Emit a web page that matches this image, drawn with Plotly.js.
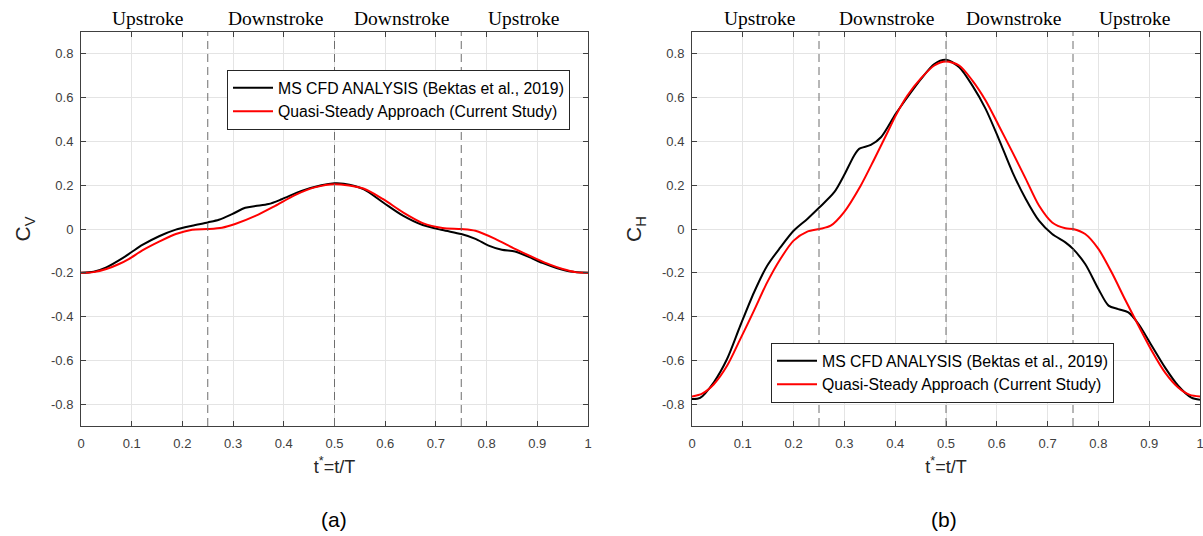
<!DOCTYPE html>
<html>
<head>
<meta charset="utf-8">
<script src="https://cdn.plot.ly/plotly-3.0.1.min.js"></script>
<style>
html,body{margin:0;padding:0;background:#fff;}
#chart{width:1203px;height:536px;}
</style>
</head>
<body>
<div id="chart"></div>
<script>
// ---------- DATA ----------
const seriesNames = ["MS CFD ANALYSIS (Bektas et al., 2019)", "Quasi-Steady Approach (Current Study)"];
const phaseLabels = ["Upstroke", "Downstroke", "Downstroke", "Upstroke"];
const phaseLines = [0.25, 0.5, 0.75];
const panelLabels = ["(a)", "(b)"];
const xTickVals = [0, 0.1, 0.2, 0.3, 0.4, 0.5, 0.6, 0.7, 0.8, 0.9, 1];
const xTickText = ["0", "0.1", "0.2", "0.3", "0.4", "0.5", "0.6", "0.7", "0.8", "0.9", "1"];
const yTickVals = [-0.8, -0.6, -0.4, -0.2, 0, 0.2, 0.4, 0.6, 0.8];
const yTickText = ["-0.8", "-0.6", "-0.4", "-0.2", "0", "0.2", "0.4", "0.6", "0.8"];

// (a) C_V
const tCvCfd = [0, 0.025, 0.05, 0.082, 0.1, 0.121, 0.154, 0.187, 0.219, 0.25, 0.272, 0.298, 0.324, 0.344, 0.37, 0.396, 0.435, 0.474, 0.5, 0.518, 0.557, 0.596, 0.635, 0.674, 0.713, 0.75, 0.778, 0.804, 0.83, 0.856, 0.882, 0.91, 0.938, 0.965, 1];
const cvCfd  = [-0.2, -0.195, -0.175, -0.133, -0.105, -0.073, -0.033, -0.003, 0.015, 0.03, 0.042, 0.068, 0.097, 0.105, 0.114, 0.136, 0.174, 0.2, 0.209, 0.207, 0.182, 0.121, 0.061, 0.018, -0.005, -0.023, -0.045, -0.076, -0.095, -0.103, -0.126, -0.155, -0.178, -0.194, -0.2];
const tCvQs = [0, 0.025, 0.05, 0.075, 0.095, 0.121, 0.154, 0.187, 0.219, 0.25, 0.278, 0.304, 0.344, 0.383, 0.422, 0.461, 0.5, 0.557, 0.596, 0.635, 0.674, 0.713, 0.75, 0.778, 0.817, 0.856, 0.895, 0.925, 0.95, 0.975, 1];
const cvQs  = [-0.2, -0.197, -0.183, -0.16, -0.136, -0.098, -0.058, -0.023, -0.003, 0, 0.006, 0.023, 0.06, 0.106, 0.155, 0.19, 0.205, 0.185, 0.136, 0.076, 0.027, 0.005, 0, -0.008, -0.045, -0.091, -0.133, -0.163, -0.183, -0.197, -0.2];

// (b) C_H
const tChCfd = [0, 0.016, 0.043, 0.069, 0.095, 0.122, 0.148, 0.174, 0.2, 0.227, 0.251, 0.28, 0.299, 0.319, 0.329, 0.352, 0.372, 0.401, 0.424, 0.451, 0.477, 0.5, 0.526, 0.552, 0.578, 0.604, 0.631, 0.657, 0.683, 0.709, 0.735, 0.75, 0.774, 0.8, 0.82, 0.839, 0.859, 0.879, 0.905, 0.931, 0.957, 0.983, 1];
const chCfd  = [-0.777, -0.772, -0.70, -0.594, -0.442, -0.29, -0.168, -0.084, -0.008, 0.046, 0.099, 0.168, 0.244, 0.335, 0.366, 0.384, 0.419, 0.526, 0.602, 0.686, 0.754, 0.773, 0.739, 0.655, 0.549, 0.411, 0.259, 0.137, 0.038, -0.023, -0.061, -0.091, -0.16, -0.274, -0.35, -0.366, -0.381, -0.434, -0.533, -0.632, -0.716, -0.77, -0.78];
const tChQs = [0, 0.02, 0.043, 0.069, 0.095, 0.122, 0.148, 0.174, 0.2, 0.227, 0.251, 0.273, 0.299, 0.332, 0.359, 0.385, 0.401, 0.424, 0.451, 0.477, 0.5, 0.526, 0.552, 0.578, 0.604, 0.631, 0.657, 0.683, 0.709, 0.735, 0.75, 0.774, 0.8, 0.826, 0.852, 0.879, 0.905, 0.931, 0.957, 0.98, 1];
const chQs  = [-0.765, -0.752, -0.709, -0.625, -0.503, -0.373, -0.244, -0.137, -0.053, -0.012, 0, 0.015, 0.076, 0.198, 0.32, 0.442, 0.518, 0.61, 0.689, 0.747, 0.765, 0.747, 0.678, 0.587, 0.472, 0.35, 0.229, 0.107, 0.03, 0.003, 0, -0.023, -0.091, -0.198, -0.32, -0.442, -0.556, -0.655, -0.724, -0.758, -0.765];

// ---------- STYLE / LAYOUT ----------
const W = 1203, H = 536;
const px = v => v / W, py = v => 1 - v / H;
const blackLine = {color: '#000000', width: 2, shape: 'spline', smoothing: 0.8};
const redLine = {color: '#ff0000', width: 2, shape: 'spline', smoothing: 0.8};

const traces = [
  {x: tCvCfd, y: cvCfd, xaxis: 'x', yaxis: 'y', mode: 'lines', name: seriesNames[0], line: blackLine, legend: 'legend'},
  {x: tCvQs, y: cvQs, xaxis: 'x', yaxis: 'y', mode: 'lines', name: seriesNames[1], line: redLine, legend: 'legend'},
  {x: tChCfd, y: chCfd, xaxis: 'x2', yaxis: 'y2', mode: 'lines', name: seriesNames[0], line: blackLine, legend: 'legend2'},
  {x: tChQs, y: chQs, xaxis: 'x2', yaxis: 'y2', mode: 'lines', name: seriesNames[1], line: redLine, legend: 'legend2'}
];

const tickFont = {family: 'Liberation Sans, Arial, sans-serif', size: 13, color: '#404040'};
function xAxis(domain, anchor) {
  return {
    domain: domain, anchor: anchor, range: [0, 1], tickvals: xTickVals, ticktext: xTickText,
    ticks: 'inside', ticklen: 5, tickwidth: 1, tickcolor: '#404040',
    showline: true, linecolor: '#404040', linewidth: 1, mirror: 'ticks',
    showgrid: true, gridcolor: '#e4e4e4', gridwidth: 1, zeroline: false,
    tickfont: tickFont, ticklabelstandoff: 5, ticklabeloverflow: 'allow',
    title: {text: 't<sup>*</sup>=t/T', font: {family: 'Liberation Sans, Arial, sans-serif', size: 18, color: '#262626'}, standoff: 10},
    fixedrange: true
  };
}
function yAxis(domain, anchor, sub) {
  return {
    domain: domain, anchor: anchor, range: [-0.9, 0.9], tickvals: yTickVals, ticktext: yTickText,
    ticks: 'inside', ticklen: 5, tickwidth: 1, tickcolor: '#404040',
    showline: true, linecolor: '#404040', linewidth: 1, mirror: 'ticks',
    showgrid: true, gridcolor: '#e4e4e4', gridwidth: 1, zeroline: false,
    tickfont: tickFont, ticklabelstandoff: 4,
    title: {text: 'C<sub>' + sub + '</sub>', font: {family: 'Liberation Sans, Arial, sans-serif', size: 21, color: '#262626'}, standoff: 14},
    fixedrange: true
  };
}

const yDom = [py(426), py(32)];
const shapes = [];
['x', 'x2'].forEach(xr => {
  phaseLines.forEach(v => {
    shapes.push({type: 'line', xref: xr, yref: 'paper', x0: v, x1: v, y0: yDom[0], y1: yDom[1],
      layer: 'above', line: {color: '#6e6e6e', width: 1, dash: '8px,5px'}});
  });
});

const phasePos = [0.133, 0.383, 0.633, 0.873];
const annotations = [];
['x', 'x2'].forEach(xr => {
  phaseLabels.forEach((lab, j) => {
    annotations.push({text: lab, xref: xr, yref: 'paper', x: phasePos[j], y: py(18), xanchor: 'center', yanchor: 'middle',
      showarrow: false, font: {family: 'Liberation Serif, Times New Roman, serif', size: 19.5, color: '#000'}});
  });
});
annotations.push({text: panelLabels[0], xref: 'paper', yref: 'paper', x: px(334), y: py(519), xanchor: 'center', yanchor: 'middle', showarrow: false, font: {family: 'Liberation Sans, Arial, sans-serif', size: 21, color: '#000'}});
annotations.push({text: panelLabels[1], xref: 'paper', yref: 'paper', x: px(944), y: py(519), xanchor: 'center', yanchor: 'middle', showarrow: false, font: {family: 'Liberation Sans, Arial, sans-serif', size: 21, color: '#000'}});

const legendStyle = {bgcolor: '#ffffff', bordercolor: '#262626', borderwidth: 1,
  font: {family: 'Liberation Sans, Arial, sans-serif', size: 15.8, color: '#000'},
  xanchor: 'left', yanchor: 'top', tracegroupgap: 0, itemwidth: 40};

const layout = {
  width: W, height: H,
  margin: {l: 0, r: 0, t: 0, b: 0},
  paper_bgcolor: '#ffffff', plot_bgcolor: '#ffffff',
  showlegend: true,
  xaxis: xAxis([px(81), px(588)], 'y'),
  yaxis: yAxis(yDom, 'x', 'V'),
  xaxis2: xAxis([px(692), px(1200)], 'y2'),
  yaxis2: yAxis(yDom, 'x2', 'H'),
  legend: Object.assign({x: px(227), y: py(70)}, legendStyle),
  legend2: Object.assign({x: px(771), y: py(343)}, legendStyle),
  shapes: shapes,
  annotations: annotations
};

Plotly.newPlot('chart', traces, layout, {staticPlot: true, displayModeBar: false});
</script>
</body>
</html>
